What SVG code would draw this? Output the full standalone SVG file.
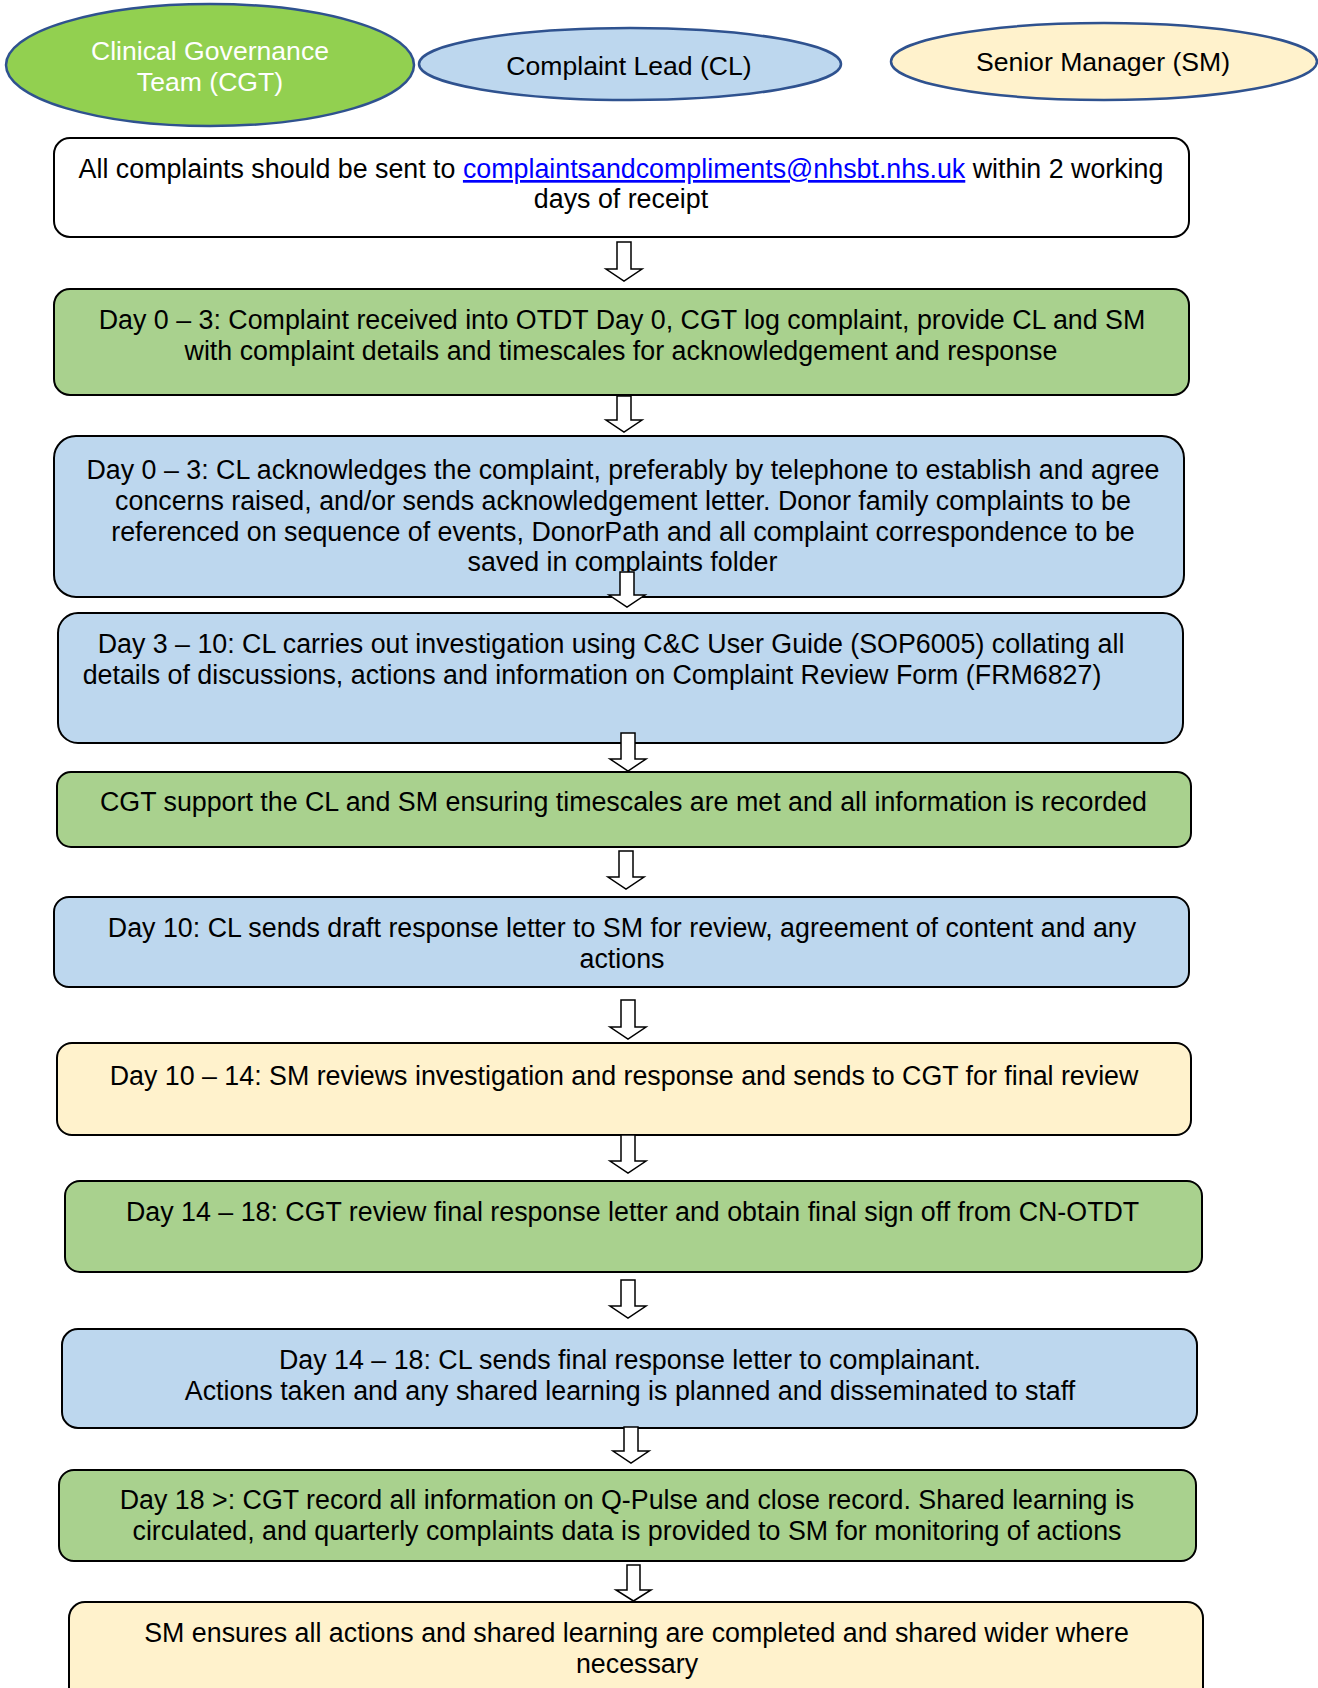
<svg xmlns="http://www.w3.org/2000/svg" width="1318" height="1688" viewBox="0 0 1318 1688">
<style>
text{font-family:"Liberation Sans",Arial,sans-serif;font-size:26.8px;fill:#000;text-anchor:middle}
.et{font-size:26.6px}
.ell{stroke:#2f528f;stroke-width:2.5}
.box{stroke:#000;stroke-width:2}
.g{fill:#a9d18e}.b{fill:#bdd7ee}.y{fill:#fff2cc}.w{fill:#fff}
.arr{fill:#fff;stroke:#000;stroke-width:1.5;stroke-linejoin:miter}
.link{fill:#0000ff;text-decoration:underline}
</style>
<rect width="1318" height="1688" fill="#fff"/>
<g id="cgt"><ellipse class="ell" cx="210" cy="65" rx="204" ry="61" fill="#92d050"/><text class="et" x="210" y="60" style="fill:#fff">Clinical Governance</text><text class="et" x="210" y="91" style="fill:#fff">Team (CGT)</text></g>
<g id="cl"><ellipse class="ell" cx="630" cy="64" rx="211" ry="36" fill="#bdd7ee"/><text class="et" x="629" y="75">Complaint Lead (CL)</text></g>
<g id="sm"><ellipse class="ell" cx="1104" cy="61.5" rx="213" ry="38.5" fill="#fff2cc"/><text class="et" x="1103" y="71">Senior Manager (SM)</text></g>

<g id="n1"><rect class="box w" x="54" y="138" width="1135" height="99" rx="16"/><text x="621" y="178">All complaints should be sent to <tspan class="link">complaintsandcompliments@nhsbt.nhs.uk</tspan> within 2 working</text><text x="621" y="208">days of receipt</text></g>
<g id="n2"><rect class="box g" x="54" y="289" width="1135" height="106" rx="16"/><text x="622" y="329">Day 0 – 3: Complaint received into OTDT Day 0, CGT log complaint, provide CL and SM</text><text x="621" y="360">with complaint details and timescales for acknowledgement and response</text></g>
<g id="n3"><rect class="box b" x="54" y="436" width="1130" height="161" rx="22"/><text x="623" y="479">Day 0 – 3: CL acknowledges the complaint, preferably by telephone to establish and agree</text><text x="623" y="510">concerns raised, and/or sends acknowledgement letter. Donor family complaints to be</text><text x="623" y="541">referenced on sequence of events, DonorPath and all complaint correspondence to be</text><text x="622.5" y="571">saved in complaints folder</text></g>
<g id="n4"><rect class="box b" x="58" y="613" width="1125" height="130" rx="20"/><text x="611" y="653">Day 3 – 10: CL carries out investigation using C&amp;C User Guide (SOP6005) collating all</text><text x="592" y="684">details of discussions, actions and information on Complaint Review Form (FRM6827)</text></g>
<g id="n5"><rect class="box g" x="57" y="772" width="1134" height="75" rx="14"/><text x="623.5" y="811">CGT support the CL and SM ensuring timescales are met and all information is recorded</text></g>
<g id="n6"><rect class="box b" x="54" y="897" width="1135" height="90" rx="15"/><text x="622" y="937">Day 10: CL sends draft response letter to SM for review, agreement of content and any</text><text x="622" y="968">actions</text></g>
<g id="n7"><rect class="box y" x="57" y="1043" width="1134" height="92" rx="15"/><text x="624" y="1085">Day 10 – 14: SM reviews investigation and response and sends to CGT for final review</text></g>
<g id="n8"><rect class="box g" x="65" y="1181" width="1137" height="91" rx="15"/><text x="632.6" y="1221">Day 14 – 18: CGT review final response letter and obtain final sign off from CN-OTDT</text></g>
<g id="n9"><rect class="box b" x="62" y="1329" width="1135" height="99" rx="16"/><text x="630" y="1369">Day 14 – 18: CL sends final response letter to complainant.</text><text x="630" y="1400">Actions taken and any shared learning is planned and disseminated to staff</text></g>
<g id="n10"><rect class="box g" x="59" y="1470" width="1137" height="91" rx="15"/><text x="627" y="1509">Day 18 &gt;: CGT record all information on Q-Pulse and close record. Shared learning is</text><text x="627" y="1540">circulated, and quarterly complaints data is provided to SM for monitoring of actions</text></g>
<g id="n11"><rect class="box y" x="69" y="1602" width="1134" height="110" rx="16"/><text x="636.5" y="1642">SM ensures all actions and shared learning are completed and shared wider where</text><text x="637" y="1673">necessary</text></g>

<g id="connectors">
<path class="arr" d="M617 242H631V269H642L624 281L606 269H617Z"/>
<path class="arr" d="M617 396H631V420H642L624 432L606 420H617Z"/>
<path class="arr" d="M620 572H634V595H645L627 607L609 595H620Z"/>
<path class="arr" d="M621 733H635V759H646L628 771L610 759H621Z"/>
<path class="arr" d="M619 851H633V877H644L626 889L608 877H619Z"/>
<path class="arr" d="M621 1000H635V1027H646L628 1039L610 1027H621Z"/>
<path class="arr" d="M621 1135H635V1161H646L628 1173L610 1161H621Z"/>
<path class="arr" d="M621 1280H635V1306H646L628 1318L610 1306H621Z"/>
<path class="arr" d="M624 1427H638V1451H649L631 1463L613 1451H624Z"/>
<path class="arr" d="M627 1565H640V1590H651L633.5 1601L616 1590H627Z"/>
</g>
</svg>
